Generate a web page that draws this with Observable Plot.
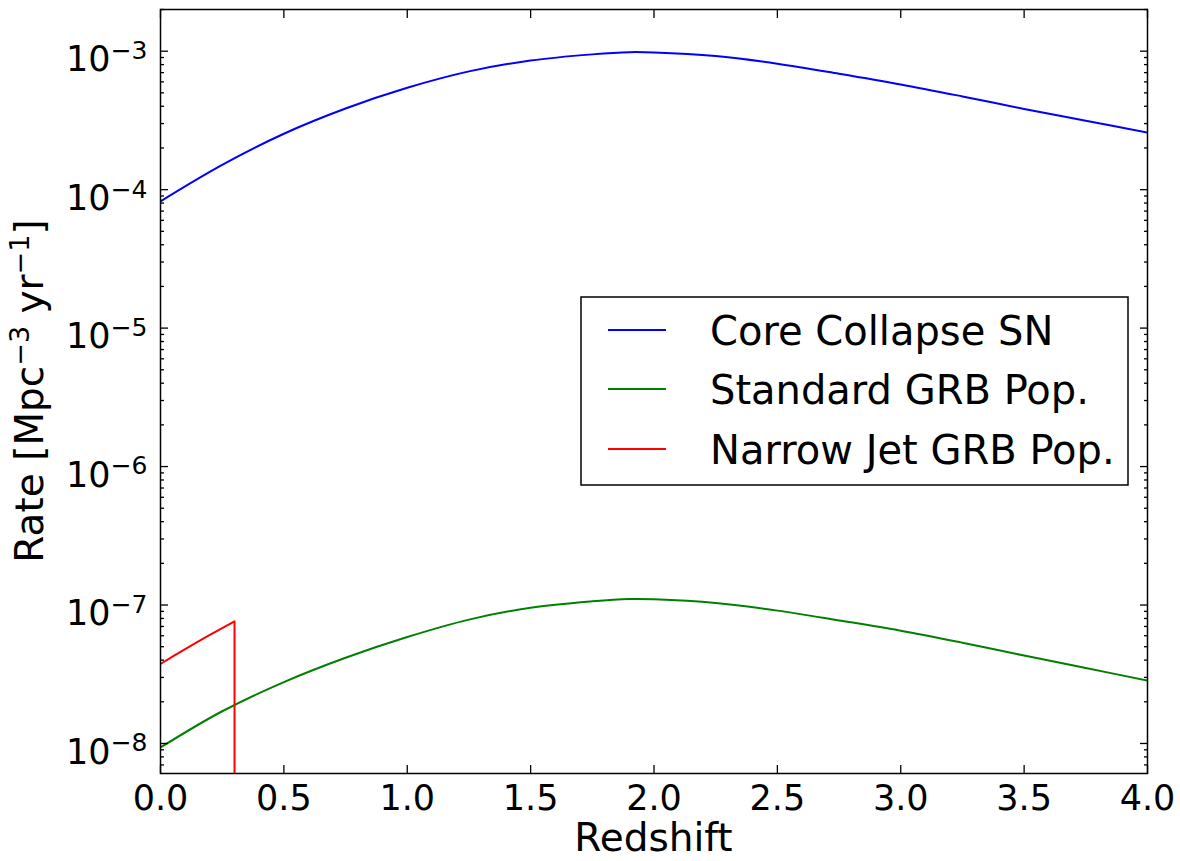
<!DOCTYPE html>
<html><head><meta charset="utf-8">
<script src="https://cdn.jsdelivr.net/npm/d3@7"></script>
<script src="https://cdn.jsdelivr.net/npm/@observablehq/plot@0.6"></script>
<style>html,body{margin:0;padding:0;background:#fff;} svg{display:block}</style>
</head><body><div id="chart"></div>
<script>
// ---- data ----
const redshift = [0, 0.25, 0.5, 0.75, 1.0, 1.25, 1.5, 1.75, 1.9, 2.0, 2.25, 2.5, 2.75, 3.0, 3.25, 3.5, 3.75, 4.0];
const coreCollapseSN = [8.24e-5, 1.510e-4, 2.533e-4, 3.853e-4, 5.438e-4, 7.145e-4, 8.565e-4, 9.483e-4, 9.835e-4, 9.786e-4, 9.217e-4, 8.121e-4, 6.877e-4, 5.754e-4, 4.714e-4, 3.827e-4, 3.146e-4, 2.584e-4];
const standardGRB = [9.36e-9, 1.709e-8, 2.777e-8, 4.16e-8, 5.872e-8, 7.844e-8, 9.561e-8, 1.0634e-7, 1.105e-7, 1.0995e-7, 1.034e-7, 9.11e-8, 7.74e-8, 6.521e-8, 5.34e-8, 4.316e-8, 3.506e-8, 2.848e-8];
const narrowJetZ = [0, 0.05, 0.1, 0.15, 0.2, 0.25, 0.3, 0.3];
const narrowJetGRB = [3.75e-8, 4.26e-8, 4.81e-8, 5.41e-8, 6.08e-8, 6.81e-8, 7.62e-8, 1e-12]; // drops to ~0 after z=0.3
const seriesNames = ["Core Collapse SN", "Standard GRB Pop.", "Narrow Jet GRB Pop."];
const seriesColors = ["#0000ff", "#008000", "#ff0000"];
const xTicks = [0, 0.5, 1.0, 1.5, 2.0, 2.5, 3.0, 3.5, 4.0];
const yMajorTicks = [1e-8, 1e-7, 1e-6, 1e-5, 1e-4, 1e-3];
const xLabel = "Redshift";
const yDomain = [6.07e-9, 2.0e-3];

const yMinorTicks = [];
for (let k = -9; k <= -3; k++) for (let m = 2; m <= 9; m++) {
  const v = m * Math.pow(10, k);
  if (v >= yDomain[0] && v <= yDomain[1]) yMinorTicks.push(v);
}

const blueData = redshift.map((z, i) => ({z, v: coreCollapseSN[i]}));
const greenData = redshift.map((z, i) => ({z, v: standardGRB[i]}));
const redData = narrowJetZ.map((z, i) => ({z, v: narrowJetGRB[i]}));

const TICK_FS = 35, LABEL_FS = 39, LEGEND_FS = 40;

const svg = Plot.plot({
  width: 1180, height: 861,
  marginLeft: 160, marginRight: 33, marginTop: 9, marginBottom: 88,
  x: {domain: [0, 4]},
  y: {type: "log", domain: yDomain},
  style: {fontFamily: "'DejaVu Sans', sans-serif", fontSize: TICK_FS + "px", background: "white", color: "black"},
  marks: [
    Plot.line(blueData, {x: "z", y: "v", stroke: seriesColors[0], strokeWidth: 2, curve: "catmull-rom", clip: true}),
    Plot.line(greenData, {x: "z", y: "v", stroke: seriesColors[1], strokeWidth: 2, curve: "catmull-rom", clip: true}),
    Plot.line(redData, {x: "z", y: "v", stroke: seriesColors[2], strokeWidth: 2, clip: true}),
    Plot.axisX(xTicks, {anchor: "bottom", tickSize: 0, tickPadding: 12, tickFormat: d3.format(".1f"), fontSize: TICK_FS, label: null}),
    Plot.axisX(xTicks, {anchor: "bottom", tickSize: -8, strokeWidth: 1.3, fill: "none", label: null}),
    Plot.axisX(xTicks, {anchor: "top", tickSize: -8, strokeWidth: 1.3, fill: "none", label: null}),
    Plot.axisY(yMajorTicks, {anchor: "left", tickSize: 0, tickPadding: 13, tickFormat: d => String(Math.round(Math.log10(d))), fontSize: TICK_FS, label: null}),
    Plot.axisY(yMajorTicks, {anchor: "left", tickSize: -8, strokeWidth: 1.3, fill: "none", label: null}),
    Plot.axisY(yMajorTicks, {anchor: "right", tickSize: -8, strokeWidth: 1.3, fill: "none", label: null}),
    Plot.axisY(yMinorTicks, {anchor: "left", tickSize: -4, strokeWidth: 1.3, fill: "none", label: null}),
    Plot.axisY(yMinorTicks, {anchor: "right", tickSize: -4, strokeWidth: 1.3, fill: "none", label: null}),
    Plot.frame({stroke: "black", strokeWidth: 1.5})
  ]
});

const s = d3.select(svg);
// y tick labels as 10^k with superscript
s.selectAll('g[aria-label="y-axis tick label"] text').each(function() {
  const e = this.textContent;
  const t = d3.select(this);
  t.text(null).attr("dy", 9);
  t.append("tspan").text("10");
  t.append("tspan").attr("dy", -12.3).attr("font-size", Math.round(TICK_FS * 0.7)).text(e.replace("-", "\u2212"));
});

// axis labels
s.append("text")
  .attr("x", 653.5).attr("y", 851).attr("text-anchor", "middle")
  .attr("font-size", LABEL_FS).attr("fill", "black").text(xLabel);

const yl = s.append("text")
  .attr("transform", "translate(43,391) rotate(-90)")
  .attr("text-anchor", "middle").attr("font-size", LABEL_FS).attr("fill", "black");
const supFs = Math.round(LABEL_FS * 0.7), raise = 14;
yl.append("tspan").text("Rate [Mpc");
yl.append("tspan").attr("font-size", supFs).attr("dy", -raise).text("\u22123");
yl.append("tspan").attr("dy", raise).text(" yr");
yl.append("tspan").attr("font-size", supFs).attr("dy", -raise).text("\u22121");
yl.append("tspan").attr("dy", raise).text("]");

// legend
const lg = s.append("g").attr("text-anchor", "start");
lg.append("rect").attr("x", 581).attr("y", 297).attr("width", 547).attr("height", 188)
  .attr("fill", "white").attr("stroke", "black").attr("stroke-width", 1.5);
const rowY = [330, 389, 449];
seriesNames.forEach((name, i) => {
  lg.append("line").attr("x1", 608).attr("x2", 666).attr("y1", rowY[i]).attr("y2", rowY[i])
    .attr("stroke", seriesColors[i]).attr("stroke-width", 2);
  lg.append("text").attr("x", 710).attr("y", rowY[i] + 14.5).attr("font-size", LEGEND_FS)
    .attr("text-anchor", "start").attr("fill", "black").text(name);
});

document.getElementById("chart").appendChild(svg);
</script>
</body></html>
